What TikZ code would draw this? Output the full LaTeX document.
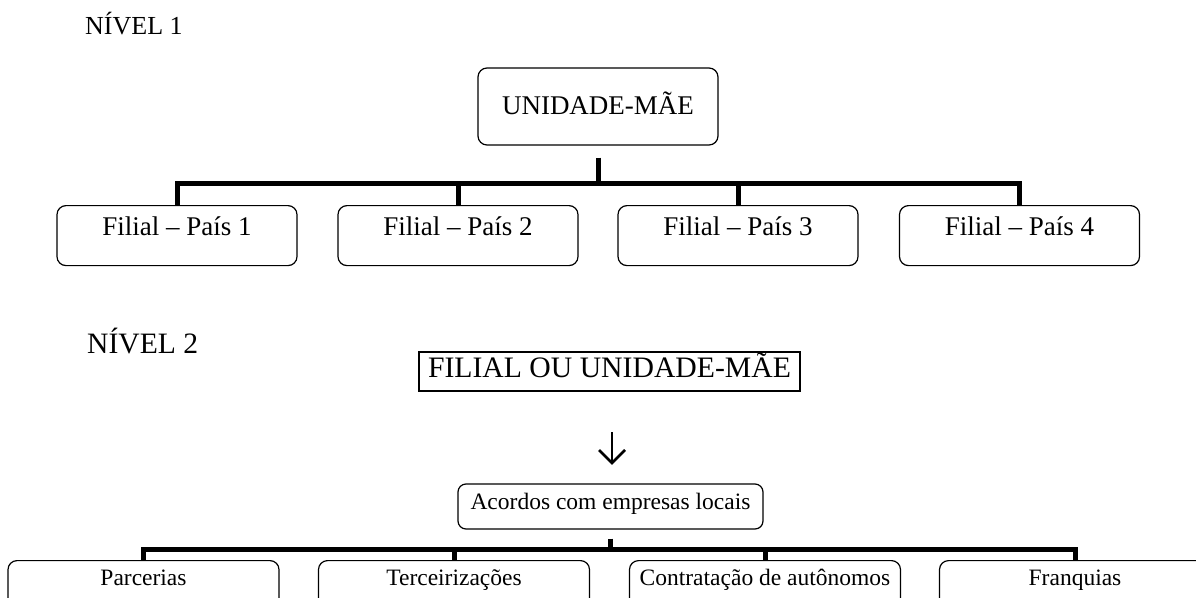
\documentclass[tikz,border=0pt]{standalone}
\usepackage{fontspec}
\setmainfont{Liberation Serif}
\begin{document}
\begin{tikzpicture}[x=1pt,y=-1pt,
  rbox/.style={draw, line width=1.2pt, rounded corners=9pt, inner sep=0pt},
  sbox/.style={draw, line width=1.2pt, inner sep=0pt},
  bar/.style={line width=5pt},
  lbl/.style={inner sep=0pt, anchor=base west},
  fil/.style={rbox, anchor=north, minimum width=240pt, text height=30pt, text depth=30pt, font=\fontsize{27}{31}\selectfont},
  sub/.style={rbox, anchor=north, minimum width=271pt, text height=25pt, text depth=40pt, font=\fontsize{23.5}{28}\selectfont},
  arr/.style={line width=2.5pt}]
\useasboundingbox (0,0) rectangle (1196,597);
\clip (0,0) rectangle (1196,597);

% Level 1
\node[lbl, font=\fontsize{26}{30}\selectfont] (n1) at (85,34) {NÍVEL 1};
\node[rbox, minimum width=240pt, minimum height=77pt, font=\fontsize{27}{32}\selectfont, text height=18pt, text depth=3pt] (mae) at (598,106.5) {UNIDADE-MÃE};
\node[fil] (f1) at (177,205) {Filial – País 1};
\node[fil] (f2) at (458,205) {Filial – País 2};
\node[fil] (f3) at (738,205) {Filial – País 3};
\node[fil] (f4) at (1019.5,205) {Filial – País 4};
\coordinate (j1) at (598,183);
\draw[bar] (f1.north) -- (f1.north |- j1) -- (f4.north |- j1) -- (f4.north);
\draw[bar] (f2.north) -- (f2.north |- j1);
\draw[bar] (f3.north) -- (f3.north |- j1);
\draw[bar] ([yshift=-12pt]mae.south) -- (mae.south |- j1);

% Level 2
\node[lbl, font=\fontsize{29.6}{34}\selectfont] (n2) at (87,353) {NÍVEL 2};
\node[sbox, minimum width=381pt, minimum height=39pt, font=\fontsize{29.7}{34}\selectfont, text height=20pt, text depth=9pt] (fu) at (609.5,371.5) {FILIAL OU UNIDADE-MÃE};
\coordinate (a1) at (612,432);
\coordinate (a2) at (612,463);
\draw[arr] (a1) -- (a2);
\draw[arr, line join=miter] ([xshift=-13pt,yshift=13pt]a2) -- (a2) -- ([xshift=13pt,yshift=13pt]a2);
\node[rbox, rounded corners=8pt, minimum width=305pt, minimum height=45pt, font=\fontsize{23.5}{28}\selectfont, text height=16pt, text depth=11pt] (ac) at (610.5,506.5) {Acordos com empresas locais};
\node[sub] (p1) at (143.5,560) {Parcerias};
\node[sub] (p2) at (454,560) {Terceirizações};
\node[sub] (p3) at (765,560) {Contratação de autônomos};
\node[sub] (p4) at (1075,560) {Franquias};
\coordinate (j2) at (610,549);
\draw[bar] (p1.north) -- (p1.north |- j2) -- (p4.north |- j2) -- (p4.north);
\draw[bar] (p2.north) -- (p2.north |- j2);
\draw[bar] (p3.north) -- (p3.north |- j2);
\draw[bar] ([yshift=-9pt]ac.south) -- (ac.south |- j2);
\end{tikzpicture}
\end{document}
